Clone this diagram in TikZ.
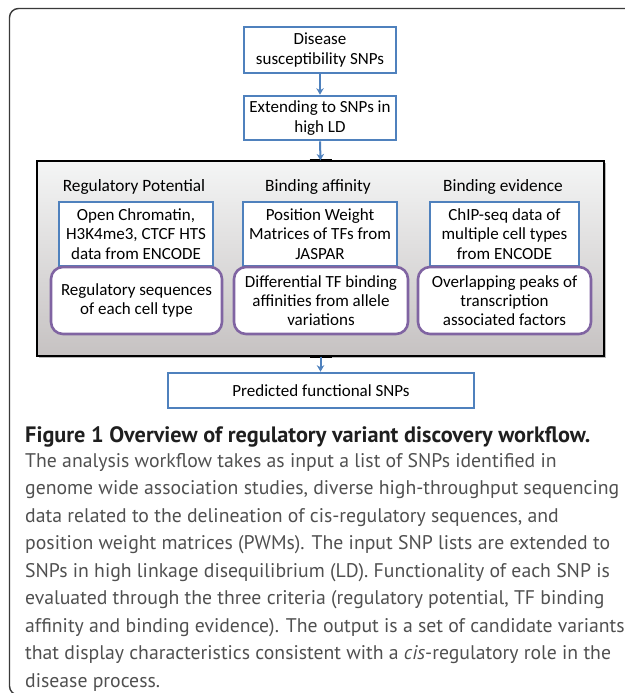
\documentclass[tikz,border=0pt]{standalone}
\usepackage{fontspec}
\setmainfont{Carlito}
\newfontfamily\capfont{PT Sans}
\usetikzlibrary{arrows.meta}
\definecolor{oblue}{HTML}{4F81BD}
\definecolor{opurple}{HTML}{8064A2}
\definecolor{gtop}{HTML}{F4F5F5}
\definecolor{gbot}{HTML}{C6C2C2}
\definecolor{captext}{HTML}{505050}
\definecolor{framecol}{HTML}{3A3A3A}
\newlength\capw
\newlength\titw
\begin{document}
\settowidth\capw{\capfont\fontsize{10bp}{12bp}\selectfont genome wide association studies, diverse high-throughput sequencing}%
\pgfmathsetmacro\capsz{10*594/(\capw/1.00375)}%
\settowidth\titw{\capfont\bfseries\fontsize{10bp}{12bp}\selectfont Figure 1 Overview of regulatory variant discovery workflow.}%
\pgfmathsetmacro\titsz{10*565/(\titw/1.00375)}%
\begin{tikzpicture}[x=1bp,y=-1bp,
  boxfont/.style={font=\fontsize{17bp}{19.3bp}\selectfont},
  bluebox/.style={draw=oblue, line width=2.6bp, fill=white, align=center, inner sep=0pt, boxfont},
  purplebox/.style={draw=opurple, line width=2.6bp, rounded corners=12bp, fill=white, align=center, inner sep=0pt, boxfont},
  hdr/.style={inner sep=0pt, font=\fontsize{17.3bp}{19bp}\selectfont},
  flow/.style={draw=oblue, line width=2bp, -{Stealth[length=6.5bp,width=7.5bp]}},
  captxt/.style={inner sep=0pt, anchor=base west, text=captext, font={\capfont\fontsize{\capsz bp}{27bp}\selectfont}},
  captitle/.style={inner sep=0pt, anchor=base west, text=black!88, font={\capfont\bfseries\fontsize{\titsz bp}{27bp}\selectfont}}]
\useasboundingbox (0,0) rectangle (625,693);
% outer frame
\draw[framecol, line width=1.4bp, rounded corners=9bp] (9.5,8.5) rectangle (700,695);
% top boxes
\node[bluebox, minimum width=152bp, minimum height=46bp] (d) at (320,50) {Disease\\susceptibility SNPs};
\node[bluebox, minimum width=152bp, minimum height=44bp] (e) at (320,118) {Extending to SNPs in\\high LD};
% shadow of gray box
\draw[gray!55, line width=1.2bp] (39,357.8) -- (605.8,357.8) -- (605.8,163);
% gray panel
\node[draw=black, line width=1.3bp, top color=gtop, bottom color=gbot, minimum width=567bp, minimum height=195bp, inner sep=0pt] (g) at (320.5,258.5) {};
\draw[black, line width=2.4bp] (g.north) ++(-11,0) -- ++(22,0);
\draw[black, line width=2.4bp] (g.south) ++(-11,0) -- ++(22,0);
% headers
\node[hdr] (h1) at (134,187) {Regulatory Potential};
\node[hdr] (h2) at (318,187) {Binding affinity};
\node[hdr] (h3) at (503,187) {Binding evidence};
% blue data boxes
\node[bluebox, minimum width=154bp, minimum height=64bp] (b1) at (136,234) {Open Chromatin,\\H3K4me3, CTCF HTS\\data from ENCODE};
\node[bluebox, minimum width=154bp, minimum height=64bp] (b2) at (320,234) {Position Weight\\Matrices of TFs from\\JASPAR};
\node[bluebox, minimum width=149bp, minimum height=64bp] (b3) at (504.5,234) {ChIP-seq data of\\multiple cell types\\from ENCODE};
% purple result boxes
\node[purplebox, minimum width=171bp, minimum height=67bp] (r1) at (136.5,300.5) {Regulatory sequences\\of each cell type};
\node[purplebox, minimum width=174bp, minimum height=67bp] (r2) at (321,300.5) {Differential TF binding\\affinities from allele\\variations};
\node[purplebox, minimum width=173bp, minimum height=67bp] (r3) at (504.5,300.5) {Overlapping peaks of\\transcription\\associated factors};
% output
\node[bluebox, minimum width=306bp, minimum height=35bp] (p) at (321,390.5) {Predicted functional SNPs};
% connectors
\draw[flow] (d.south) -- (e.north);
\draw[flow] (e.south) -- (g.north);
\draw[flow] (g.south) -- (p.north -| g.south);
% caption
\node[captitle] (t) at (25,442) {Figure 1 Overview of regulatory variant discovery workflow.};
\foreach \ln [count=\i] in {
 {The analysis workflow takes as input a list of SNPs identified in},
 {genome wide association studies, diverse high-throughput sequencing},
 {data related to the delineation of cis-regulatory sequences, and},
 {position weight matrices (PWMs). The input SNP lists are extended to},
 {SNPs in high linkage disequilibrium (LD). Functionality of each SNP is},
 {evaluated through the three criteria (regulatory potential, TF binding},
 {affinity and binding evidence). The output is a set of candidate variants},
 {that display characteristics consistent with a \textit{cis}-regulatory role in the},
 {disease process.}}
 \node[captxt] (c\i) at (25,{467+(\i-1)*27.5}) {\ln};
\end{tikzpicture}
\end{document}
